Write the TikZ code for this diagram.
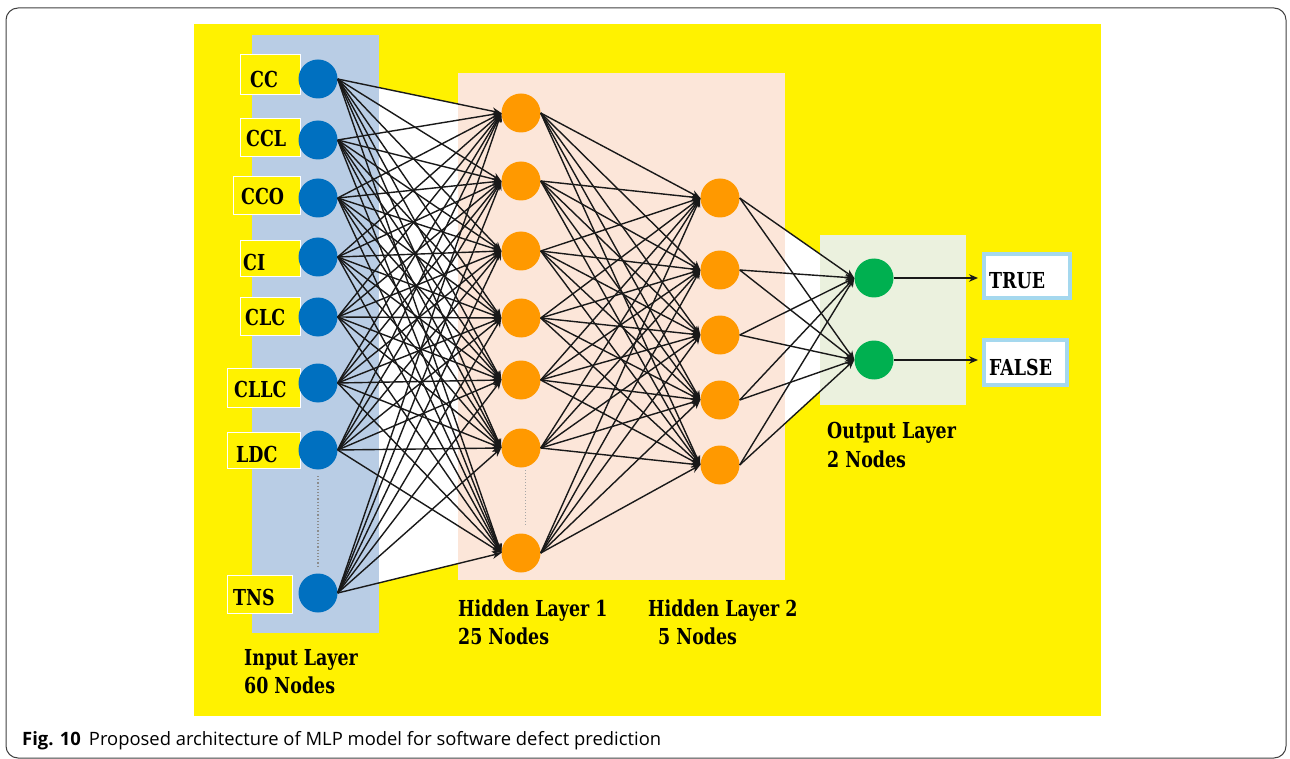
\documentclass[tikz,border=0pt]{standalone}
\usepackage{fontspec}
\usetikzlibrary{arrows.meta}
\newfontfamily\lab{DejaVu Serif Condensed Bold}[FakeStretch=0.88]
\newfontfamily\capf{Open Sans}
\definecolor{ylw}{HTML}{FFF200}
\definecolor{inbg}{HTML}{B9CDE5}
\definecolor{hidbg}{HTML}{FCE6D9}
\definecolor{outbg}{HTML}{EBF1DE}
\definecolor{nblue}{HTML}{0070C0}
\definecolor{norange}{HTML}{FF9900}
\definecolor{ngreen}{HTML}{00B050}
\definecolor{bborder}{HTML}{A5D8EE}
\pgfdeclarelayer{bg}
\pgfsetlayers{bg,main}
\tikzset{
  neuron/.style={circle, minimum size=39pt, inner sep=0pt},
  inneuron/.style={neuron, fill=nblue},
  hidneuron/.style={neuron, fill=norange},
  outneuron/.style={neuron, fill=ngreen},
  lbox/.style={draw=white, line width=1pt, fill=ylw, inner sep=0pt},
  ltxt/.style={font=\lab\fontsize{22}{24}\selectfont, anchor=base west, inner sep=0pt},
  resbox/.style={draw=bborder, line width=4pt, fill=white, inner sep=0pt},
  conn/.style={black!90, line width=1.4pt, -{Stealth[length=9pt,width=7.5pt]}},
}
\begin{document}
\begin{tikzpicture}[x=1pt,y=-1pt]
\useasboundingbox (0,0) rectangle (1290,759);
% input nodes
\foreach \n/\y in {1/79,2/140,3/198,4/257,5/317,6/383,7/450,8/593}
  \node[inneuron] (i\n) at (318,\y) {};
\foreach \n/\y in {1/113,2/181,3/251,4/318,5/380,6/448,7/553}
  \node[hidneuron] (h\n) at (521,\y) {};
\foreach \n/\y in {1/198,2/270,3/335,4/400,5/465}
  \node[hidneuron] (g\n) at (720,\y) {};
\node[outneuron] (o1) at (874,278) {};
\node[outneuron] (o2) at (874,360) {};

\begin{pgfonlayer}{bg}
  \draw[rounded corners=12pt, line width=1pt, black!75] (6,8) rectangle (1286,758);
  \fill[ylw] (194,24) rectangle (1101,716);
  \fill[white] (i1.east) -- (h1.west) -- (h7.west) -- (i8.east) -- cycle;
  \fill[white] (g1.east) -- (o1.west) -- (o2.west) -- (g5.east) -- cycle;
  \fill[inbg] (252,35) rectangle (379,633);
  \fill[hidbg] (458,73) rectangle (785,580);
  \fill[outbg] (820,235) rectangle (966,405);
  % label boxes
  \node[lbox, minimum width=60pt, minimum height=40pt] (bCC) at (270,75) {};
  \node[lbox, minimum width=60pt, minimum height=38pt] (bCCL) at (270,138) {};
  \node[lbox, minimum width=67pt, minimum height=38pt] (bCCO) at (266.5,196) {};
  \node[lbox, minimum width=60pt, minimum height=36pt] (bCI) at (270,259) {};
  \node[lbox, minimum width=60pt, minimum height=37pt] (bCLC) at (270,316.5) {};
  \node[lbox, minimum width=73pt, minimum height=39pt] (bCLLC) at (263.5,387.5) {};
  \node[lbox, minimum width=73pt, minimum height=36pt] (bLDC) at (263.5,450) {};
  \node[lbox, minimum width=65pt, minimum height=38pt] (bTNS) at (259.5,594) {};
\end{pgfonlayer}

% dotted gaps
\draw[black!45, line width=1.2pt, dotted] (318,476) coordinate (d1) -- (318,568) coordinate (d2);
\draw[black!35, line width=1pt, dotted] (525,470) coordinate (d3) -- (525,525) coordinate (d4);

% connections
\foreach \a in {1,...,8}
  \foreach \b in {1,...,7}
    \draw[conn] (i\a.east) -- (h\b.west);
\foreach \a in {1,...,7}
  \foreach \b in {1,...,5}
    \draw[conn] (h\a.east) -- (g\b.west);
\foreach \a in {1,...,5}
  \foreach \b in {1,2}
    \draw[conn] (g\a.east) -- (o\b.west);

% result boxes
\node[resbox, minimum width=86pt, minimum height=44pt] (tb) at (1027,276) {};
\node[resbox, minimum width=83pt, minimum height=45pt] (fb) at (1025.5,362.5) {};
\draw[conn] (o1.east) -- (978,278) coordinate (t1);
\draw[conn] (o2.east) -- (978,360) coordinate (t2);
\node[ltxt] (tTRUE) at (989,288) {TRUE};
\node[ltxt] (tFALSE) at (989,375) {FALSE};

% input labels
\node[ltxt] (lCC) at (250,88) {CC};
\node[ltxt] (lCCL) at (246,147) {CCL};
\node[ltxt] (lCCO) at (241,205) {CCO};
\node[ltxt] (lCI) at (243,271) {CI};
\node[ltxt] (lCLC) at (245,325) {CLC};
\node[ltxt] (lCLLC) at (234,397) {CLLC};
\node[ltxt] (lLDC) at (236,462) {LDC};
\node[ltxt] (lTNS) at (233,605) {TNS};

% layer captions
\node[ltxt] (c1a) at (244,665) {Input Layer};
\node[ltxt] (c1b) at (244,693) {60 Nodes};
\node[ltxt] (c2a) at (458,616) {Hidden Layer 1};
\node[ltxt] (c2b) at (458,644) {25 Nodes};
\node[ltxt] (c3a) at (648,616) {Hidden Layer 2};
\node[ltxt] (c3b) at (658,644) {5 Nodes};
\node[ltxt] (c4a) at (827,438) {Output Layer};
\node[ltxt] (c4b) at (827,467) {2 Nodes};

% figure caption
\node[anchor=base west, inner sep=0pt, font=\capf\fontsize{18.4}{21}\selectfont] (cap) at (22,745)
  {\textbf{Fig. 10}\hspace{8pt}Proposed architecture of MLP model for software defect prediction};
\end{tikzpicture}
\end{document}
